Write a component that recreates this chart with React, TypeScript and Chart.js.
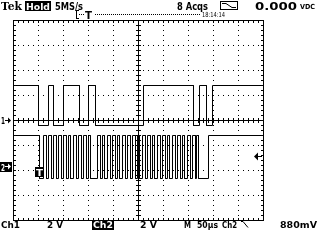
import React, { useEffect, useRef } from "react";
import { Chart, registerables } from "chart.js";
Chart.register(...registerables);

// time axis: 10 divisions x 50 µs
const timeMin = 0;
const timeMax = 500;
// vertical axis in divisions (8 divisions)
const divMin = -4;
const divMax = 4;

// CH1 trace: transition times (µs), starts high
const ch1StartHigh = true;
const ch1Edges = [50, 70, 80, 100, 132, 150, 164, 260, 360, 372, 386, 398];
const ch1Low = -0.2;
const ch1High = 1.4;

// CH2 trace: transition times (µs), starts high
const ch2StartHigh = true;
const ch2Edges = [
  52, 60, 66, 70, 76, 80, 86, 90, 96, 100, 106, 110, 114, 120, 126, 130, 136, 140, 146, 150, 154,
  168, 174, 178, 182, 188, 194, 198, 204, 208, 212, 218, 224, 228, 234, 238, 244, 248, 252, 258, 264,
  268, 274, 278, 282, 288, 294, 298, 304, 308, 312, 318, 324, 328, 334, 338, 342, 348, 354, 358, 364, 366, 370,
  390,
];
const ch2Low = -2.32;
const ch2High = -0.6;

function stepPoints(edges: number[], startHigh: boolean, low: number, high: number) {
  let state = startHigh;
  const pts: { x: number; y: number }[] = [{ x: timeMin, y: state ? high : low }];
  for (const e of edges) {
    pts.push({ x: e, y: state ? high : low });
    state = !state;
    pts.push({ x: e, y: state ? high : low });
  }
  pts.push({ x: timeMax, y: state ? high : low });
  return pts;
}

function fitText(
  ctx: CanvasRenderingContext2D,
  text: string,
  x1: number,
  x2: number,
  base: number,
  size: number,
  family = "'DejaVu Sans'",
  weight = "bold",
  color = "#000"
) {
  ctx.save();
  ctx.font = `${weight} ${size}px ${family}`;
  ctx.textAlign = "left";
  ctx.textBaseline = "alphabetic";
  const w = ctx.measureText(text).width;
  ctx.translate(x1, base);
  ctx.scale((x2 - x1) / w, 1);
  ctx.fillStyle = color;
  ctx.fillText(text, 0, 0);
  ctx.restore();
}

const graticulePlugin = {
  id: "graticule",
  beforeDraw(chart: any) {
    const ctx: CanvasRenderingContext2D = chart.ctx;
    ctx.save();
    ctx.fillStyle = "#fff";
    ctx.fillRect(0, 0, chart.width, chart.height);
    ctx.restore();
  },
  beforeDatasetsDraw(chart: any) {
    const ctx: CanvasRenderingContext2D = chart.ctx;
    const { left, right, top, bottom } = chart.chartArea;
    const L = Math.round(left), R = Math.round(right), T = Math.round(top), B = Math.round(bottom);
    const cx = Math.round((L + R) / 2), cy = Math.round((T + B) / 2);
    const dx = (R - L) / 10, dy = (B - T) / 8;
    ctx.save();
    ctx.fillStyle = "#000";
    // border
    ctx.fillRect(L, T, R - L + 1, 1);
    ctx.fillRect(L, B, R - L + 1, 1);
    ctx.fillRect(L, T, 1, B - T + 1);
    ctx.fillRect(R, T, 1, B - T + 1);
    // dotted grid
    for (let k = 1; k < 10; k++) {
      if (k === 5) continue;
      const x = Math.round(L + k * dx);
      for (let y = T; y <= B; y += 5) ctx.fillRect(x, y, 1, 1);
    }
    for (let k = 1; k < 8; k++) {
      if (k === 4) continue;
      const y = Math.round(T + k * dy);
      for (let x = L; x <= R; x += 5) ctx.fillRect(x, y, 1, 1);
    }
    // centre cross with ticks
    ctx.fillRect(cx, T, 1, B - T + 1);
    ctx.fillRect(L, cy, R - L + 1, 1);
    for (let y = T; y <= B; y += 5) ctx.fillRect(cx - 2, y, 5, 1);
    for (let x = L; x <= R; x += 5) ctx.fillRect(x, cy - 2, 1, 5);
    // border ticks
    for (let x = L; x <= R; x += 5) {
      ctx.fillRect(x, T, 1, 3);
      ctx.fillRect(x, B - 2, 1, 3);
    }
    for (let y = T; y <= B; y += 5) {
      ctx.fillRect(L, y, 3, 1);
      ctx.fillRect(R - 2, y, 3, 1);
    }
    ctx.restore();
  },
  afterDraw(chart: any) {
    const ctx: CanvasRenderingContext2D = chart.ctx;
    ctx.save();
    ctx.fillStyle = "#000";
    // header
    fitText(ctx, "Tek", 1, 22, 10, 11, "'DejaVu Serif'");
    ctx.fillRect(25, 1, 26, 10);
    fitText(ctx, "Hold", 26, 50, 10, 9, "'DejaVu Sans'", "bold", "#fff");
    fitText(ctx, "5MS/s", 55, 83, 10, 10);
    fitText(ctx, "8 Acqs", 177, 208, 10, 10);
    ctx.strokeStyle = "#000";
    ctx.lineWidth = 1;
    ctx.strokeRect(220.5, 1.5, 17, 8);
    ctx.beginPath();
    ctx.moveTo(222, 3.5);
    ctx.lineTo(226, 3.5);
    ctx.lineTo(232, 7.5);
    ctx.lineTo(236, 7.5);
    ctx.stroke();
    fitText(ctx, "0.000", 255, 297, 10, 11);
    fitText(ctx, "VDC", 300, 315, 9, 7);
    // trigger position bar
    ctx.fillRect(76, 10, 1, 9);
    ctx.fillRect(76, 10, 3, 1);
    ctx.fillRect(76, 18, 3, 1);
    for (let x = 79; x <= 199; x += 2) {
      if (x >= 84 && x <= 93) continue;
      ctx.fillRect(x, 14, 1, 1);
    }
    fitText(ctx, "T", 85, 92, 19, 10);
    fitText(ctx, "18:14:14", 202, 225, 17, 7, "'DejaVu Sans'", "normal");
    // channel markers
    fitText(ctx, "1", 1, 5, 124, 9);
    ctx.fillRect(5, 120, 5, 1);
    ctx.beginPath();
    ctx.moveTo(11, 120.5);
    ctx.lineTo(8, 117.5);
    ctx.lineTo(8, 123.5);
    ctx.closePath();
    ctx.fill();
    ctx.fillRect(0, 162, 12, 10);
    fitText(ctx, "2", 1, 5, 171, 9, "'DejaVu Sans'", "bold", "#fff");
    ctx.fillStyle = "#fff";
    ctx.fillRect(5, 166, 4, 1);
    ctx.beginPath();
    ctx.moveTo(11, 166.5);
    ctx.lineTo(8, 163.5);
    ctx.lineTo(8, 169.5);
    ctx.closePath();
    ctx.fill();
    ctx.fillStyle = "#000";
    ctx.fillRect(35, 167, 9, 10);
    fitText(ctx, "T", 36, 43, 176, 9, "'DejaVu Sans'", "bold", "#fff");
    // trigger level arrow
    ctx.beginPath();
    ctx.moveTo(254, 156.5);
    ctx.lineTo(258, 152.5);
    ctx.lineTo(258, 160.5);
    ctx.closePath();
    ctx.fill();
    ctx.fillRect(258, 156, 4, 1);
    // footer
    fitText(ctx, "Ch1", 1, 20, 228, 9);
    fitText(ctx, "2 V", 47, 63, 228, 9);
    ctx.fillRect(92, 221, 22, 9);
    fitText(ctx, "Ch2", 93, 113, 228, 9, "'DejaVu Sans'", "bold", "#fff");
    fitText(ctx, "2 V", 140, 157, 228, 9);
    fitText(ctx, "M", 184, 191, 228, 9);
    fitText(ctx, "50µs", 197, 218, 228, 9);
    fitText(ctx, "Ch2", 222, 237, 228, 9);
    ctx.beginPath();
    ctx.moveTo(241, 221.5);
    ctx.lineTo(243, 221.5);
    ctx.lineTo(248, 227.5);
    ctx.stroke();
    fitText(ctx, "880mV", 280, 317, 228, 9);
    ctx.restore();
  },
};

export default function App() {
  const ref = useRef<HTMLCanvasElement>(null);
  useEffect(() => {
    document.body.style.margin = "0";
    const canvas = ref.current!;
    const chart = new Chart(canvas, {
      type: "line",
      data: {
        datasets: [
          {
            label: "Ch1",
            data: stepPoints(ch1Edges, ch1StartHigh, ch1Low, ch1High),
            borderColor: "#000",
            borderWidth: 1,
            pointRadius: 0,
            tension: 0,
          },
          {
            label: "Ch2",
            data: stepPoints(ch2Edges, ch2StartHigh, ch2Low, ch2High),
            borderColor: "#000",
            borderWidth: 1,
            pointRadius: 0,
            tension: 0,
          },
        ],
      },
      options: {
        responsive: false,
        animation: false,
        devicePixelRatio: 1,
        layout: { padding: { left: 13, top: 20, right: 57, bottom: 20 } },
        scales: {
          x: { type: "linear", min: timeMin - 1, max: timeMax - 1, display: false },
          y: { type: "linear", min: divMin + 0.02, max: divMax + 0.02, display: false },
        },
        plugins: { legend: { display: false }, tooltip: { enabled: false }, title: { display: false } },
      },
      plugins: [graticulePlugin],
    } as any);
    return () => chart.destroy();
  }, []);
  return (
    <div style={{ width: 320, height: 240 }}>
      <canvas ref={ref} width={320} height={240} style={{ display: "block" }} />
    </div>
  );
}
